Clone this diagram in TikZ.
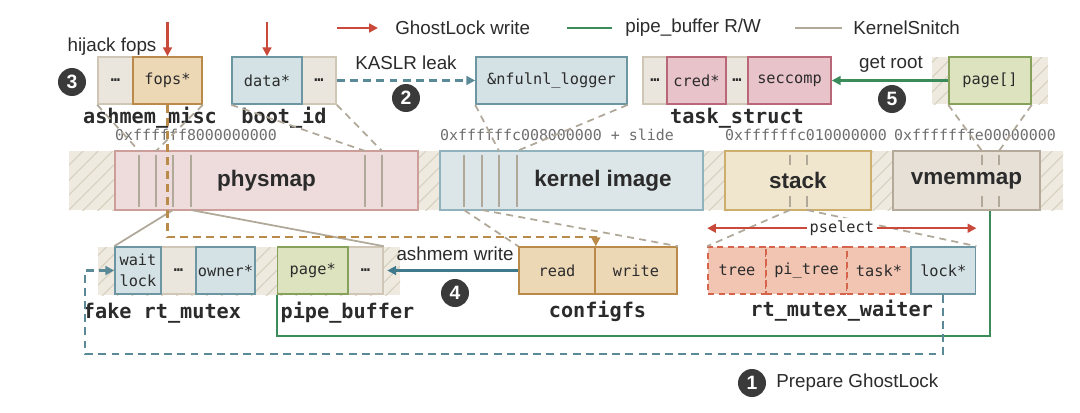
\documentclass[tikz,border=0pt]{standalone}
\usepackage{fontspec}
\setmainfont{Liberation Sans}
\setmonofont{DejaVu Sans Mono}
\usetikzlibrary{positioning,arrows.meta,patterns.meta}

\definecolor{inkdark}{HTML}{2B2B2B}
\definecolor{addrgray}{HTML}{6E6E6E}
\definecolor{dotbg}{HTML}{EBE6DD}
\definecolor{dotln}{HTML}{CFC6B6}
\definecolor{orgbg}{HTML}{EDD8B6}
\definecolor{orgln}{HTML}{B98A4A}
\definecolor{blubg}{HTML}{D4E2E5}
\definecolor{bluln}{HTML}{6C96A2}
\definecolor{pnkbg}{HTML}{E9C3CA}
\definecolor{pnkln}{HTML}{B96678}
\definecolor{grnbg}{HTML}{DDE3BE}
\definecolor{grnln}{HTML}{86A25A}
\definecolor{salbg}{HTML}{F1C5B2}
\definecolor{salln}{HTML}{D6644C}
\definecolor{physbg}{HTML}{EEDCDC}
\definecolor{physln}{HTML}{CE9E9A}
\definecolor{kimgbg}{HTML}{DCE5E8}
\definecolor{kimgln}{HTML}{90B2BC}
\definecolor{stackbg}{HTML}{F0E6CE}
\definecolor{stackln}{HTML}{CDAE6C}
\definecolor{vmembg}{HTML}{E7E0D6}
\definecolor{vmemln}{HTML}{B5A99A}
\definecolor{hatchbg}{HTML}{EEEAE0}
\definecolor{hatchln}{HTML}{D8D0BE}
\definecolor{snitch}{HTML}{B0A899}
\definecolor{ghostred}{HTML}{C9493A}
\definecolor{pipegrn}{HTML}{3C8B5A}
\definecolor{lockblu}{HTML}{5A8A98}
\definecolor{writeblu}{HTML}{3F7A8C}
\definecolor{numbg}{HTML}{3A3A3A}

\begin{document}
\begin{tikzpicture}[
  x=0.02cm, y=-0.02cm,
  font=\fontsize{10.7}{12}\selectfont, text=inkdark,
  >={Triangle[length=5pt,width=5pt]},
  fld/.style={draw, line width=0.9pt, inner sep=0pt, minimum height=0.94cm, font=\ttfamily\fontsize{8.7}{10}\selectfont},
  wd/.style={minimum width=#1*0.02cm},
  dotsf/.style={fld, fill=dotbg, draw=dotln},
  orgf/.style={fld, fill=orgbg, draw=orgln},
  bluf/.style={fld, fill=blubg, draw=bluln},
  pnkf/.style={fld, fill=pnkbg, draw=pnkln},
  grnf/.style={fld, fill=grnbg, draw=grnln},
  salf/.style={fld, fill=salbg, draw=salln, dash pattern=on 3.5pt off 2.5pt},
  region/.style={draw, line width=1pt, minimum height=1.18cm, inner sep=0pt},
  regtext/.style={font=\bfseries\fontsize{12.8}{15}\selectfont, inner xsep=1pt, inner ysep=4pt},
  structname/.style={font=\ttfamily\bfseries\fontsize{11.5}{13}\selectfont, inner sep=0pt},
  addr/.style={font=\ttfamily\fontsize{8.5}{10}\selectfont, text=addrgray, inner sep=0pt},
  stepnum/.style={circle, fill=numbg, text=white, minimum size=0.56cm, inner sep=0pt, font=\bfseries\fontsize{11}{12}\selectfont},
  note/.style={inner sep=0pt},
  hatch/.style={fill=hatchbg, postaction={pattern={Lines[angle=45,distance=6pt,line width=0.6pt]}, pattern color=hatchln}},
  stripe/.style={draw=snitch, line width=1pt},
  snitchdash/.style={draw=snitch, line width=1pt, dash pattern=on 4pt off 3pt},
  snitchline/.style={draw=snitch, line width=1pt},
  ghostwr/.style={->, draw=ghostred, line width=1.2pt},
  pipeln/.style={draw=pipegrn, line width=1.2pt},
  lockdash/.style={->, draw=lockblu, line width=1.2pt, dash pattern=on 4.5pt off 3pt},
  ashdash/.style={->, draw=orgln, line width=1.2pt, dash pattern=on 4.5pt off 3pt}
]
  \useasboundingbox (0,0) rectangle (1080,413);

  % legend
  \node[note, anchor=west] (lgred) at (395,28) {GhostLock write};
  \draw[ghostwr] ([xshift=-1.16cm]lgred.west) -- ([xshift=-0.34cm]lgred.west);
  \node[note, anchor=west] (lggrn) at (625,28) {pipe\_buffer R/W};
  \draw[pipeln] ([xshift=-1.16cm]lggrn.west) -- ([xshift=-0.26cm]lggrn.west);
  \node[note, anchor=west] (lggray) at (853,28) {KernelSnitch};
  \draw[snitchline, line width=1.6pt] ([xshift=-1.16cm]lggray.west) -- ([xshift=-0.22cm]lggray.west);

  % top row
  \node[dotsf, wd=35] (amdots) at (115.5,80.5) {\textbf{…}};
  \node[orgf, wd=69] (amfops) at (167.5,80.5) {fops*};
  \node[dotsf, wd=34] (bidots) at (319,80.5) {\textbf{…}};
  \node[bluf, wd=70] (bidata) at (267,80.5) {data*};
  \node[bluf, wd=151] (nful) at (551.5,80.5) {\&nfulnl\_logger};
  \node[dotsf, wd=24] (tsdots) at (655,80.5) {\textbf{…}};
  \node[dotsf, wd=22] (tsdotsb) at (737,80.5) {\textbf{…}};
  \node[pnkf, wd=59] (tscred) at (696.5,80.5) {cred*};
  \node[pnkf, wd=83] (tssecc) at (789.5,80.5) {seccomp};
  \path[hatch] (932,57) rectangle (1048,104);
  \node[grnf, wd=82] (vmpage) at (990,80.5) {page[]};

  \node[structname] (amname) at (150,118) {ashmem\_misc};
  \node[structname] (biname) at (284,118) {boot\_id};
  \node[structname] (tsname) at (737,118) {task\_struct};

  \node[addr] (ad1) at (196,135) {0xffffff8000000000};
  \node[addr] (ad2) at (557,135) {0xffffffc008000000 + slide};
  \node[addr] (ad3) at (806,135) {0xffffffc010000000};
  \node[addr] (ad4) at (975,135) {0xfffffffe00000000};

  % memory regions
  \path[hatch] (69,151) rectangle (1063,210);
  \node[region, fill=physbg, draw=physln, wd=303] (phys) at (266.5,180.5) {};
  \node[region, fill=kimgbg, draw=kimgln, wd=263] (kimg) at (571.5,180.5) {};
  \node[region, fill=stackbg, draw=stackln, wd=146] (stk) at (798,180.5) {};
  \node[region, fill=vmembg, draw=vmemln, wd=147] (vmem) at (966.5,180.5) {};
  \foreach \x [count=\i] in {139,156,173,191,365,382,464,482,499,517,790,807,982,999} {
    \draw[stripe] (\x,155) -- (\x,207);
    \coordinate (st\i) at (\x,151);
    \coordinate (sb\i) at (\x,210);
  }
  \node[regtext] (physT) at (phys.center) {physmap};
  \node[regtext] (kimgT) at (603,180.5) {kernel image};
  \node[regtext, fill=stackbg] (stkT) at (stk.center) {stack};
  \node[regtext, fill=vmembg] (vmemT) at (vmem.center) {vmemmap};

  \draw[snitchdash] (amdots.south west) -- (st1);
  \draw[snitchdash] (amfops.south east) -- (st2);
  \draw[snitchdash] (bidata.south west) -- (st5);
  \draw[snitchdash] (bidots.south east) -- (st6);
  \draw[snitchdash] (nful.south west) -- (st9);
  \draw[snitchdash] (nful.south east) -- (st10);
  \draw[snitchdash] (vmpage.south west) -- (st13);
  \draw[snitchdash] (vmpage.south east) -- (st14);

  % bottom row
  \path[hatch] (98,247) rectangle (400,295);
  \node[dotsf, wd=35] (frdots) at (178.5,270.5) {\textbf{…}};
  \node[bluf, wd=46, align=center, font=\ttfamily\fontsize{8.7}{12}\selectfont] (wl) at (138,270.5) {wait\\lock};
  \node[bluf, wd=59] (owner) at (225.5,270.5) {owner*};
  \node[dotsf, wd=35] (pbdots) at (365.5,270.5) {\textbf{…}};
  \node[grnf, wd=70.5] (pbpage) at (312.75,270.5) {page*};
  \node[orgf, wd=76] (cfread) at (557,270.5) {read};
  \node[orgf, wd=82] (cfwrite) at (636,270.5) {write};
  \node[salf, wd=58] (wtree) at (737,270.5) {tree};
  \node[salf, wd=81] (wpitree) at (806.5,270.5) {pi\_tree};
  \node[salf, wd=64] (wtask) at (879,270.5) {task*};
  \node[bluf, wd=64.7] (wlock) at (943.3,270.5) {lock*};

  \node[structname] (frname) at (162,313) {fake rt\_mutex};
  \node[structname] (pbname) at (347.5,313) {pipe\_buffer};
  \node[structname] (cfname) at (597.5,311) {configfs};
  \node[structname] (wname) at (841.7,311) {rt\_mutex\_waiter};

  \draw[snitchline] (sb3) -- (wl.north west);
  \draw[snitchline] (sb4) -- (pbdots.north east);
  \draw[snitchdash] (sb7) -- (cfread.north west);
  \draw[snitchdash] (sb8) -- (cfwrite.north east);
  \draw[snitchdash] (sb11) -- (wtree.north west);
  \draw[snitchdash] (sb12) -- (wlock.north east);

  % exploit steps
  \draw[ghostwr] ([yshift=0.68cm]amfops.north) -- (amfops.north);
  \draw[ghostwr] ([yshift=0.68cm]bidata.north) -- (bidata.north);
  \node[note] (hijack) at (112,47) {hijack fops};
  \node[stepnum] (n3) at (72,82) {3};

  \draw[lockdash] (bidots.east) -- (nful.west);
  \node[note] (kaslr) at (406,63) {KASLR leak};
  \node[stepnum] (n2) at (406,98) {2};

  \draw[pipeln, ->] (vmpage.west) -- (tssecc.east);
  \node[note] (groot) at (891,64) {get root};
  \node[stepnum] (n5) at (892,99) {5};

  \draw[ashdash] (amfops.south) |- ([yshift=0.18cm]cfread.north east) -- (cfread.north east);
  \draw[->, draw=writeblu, line width=1.2pt, shorten >=2pt] (cfread.west) -- (pbdots.east);
  \node[note] (ashwr) at (455,254) {ashmem write};
  \node[stepnum] (n4) at (455,293) {4};

  \draw[ghostwr, <->] ([yshift=0.36cm]wtree.north west) -- ([yshift=0.36cm]wlock.north east)
    node[midway, fill=white, inner sep=1.5pt, font=\ttfamily\fontsize{8.7}{10}\selectfont] (psel) {pselect};

  \draw[pipeln] ([xshift=0.47cm]vmem.south) -- ++(0,125) -| (pbpage.south west);
  \draw[lockdash] (wlock.south) -- ++(0,59) -| ([xshift=-0.58cm]wl.west) -- (wl.west);

  \node[stepnum] (n1) at (752,383) {1};
  \node[note, anchor=west] (prep) at (776,383) {Prepare GhostLock};
\end{tikzpicture}
\end{document}
